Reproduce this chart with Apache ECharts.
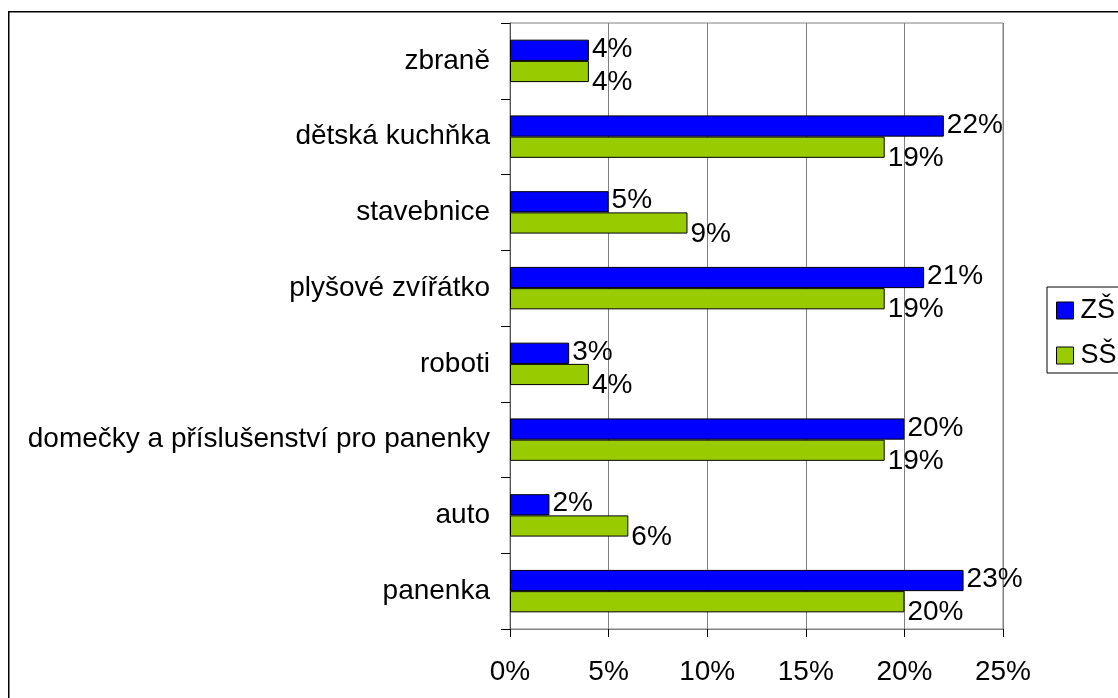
<!DOCTYPE html>
<html>
<head>
<meta charset="utf-8">
<script src="https://cdn.jsdelivr.net/npm/echarts@6/dist/echarts.min.js"></script>
<style>html,body{margin:0;padding:0;background:#fff}#c{width:1118px;height:698px}</style>
</head>
<body>
<div id="c"></div>
<script>
const categories = ['panenka', 'auto', 'domečky a příslušenství pro panenky', 'roboti', 'plyšové zvířátko', 'stavebnice', 'dětská kuchňka', 'zbraně'];
const seriesNames = ['ZŠ', 'SŠ'];
const zsValues = [23, 2, 20, 3, 21, 5, 22, 4];
const ssValues = [20, 6, 19, 4, 19, 9, 19, 4];
const xTicks = [0, 5, 10, 15, 20, 25];

const chart = echarts.init(document.getElementById('c'), null, {renderer: 'canvas'});
const font = 'Liberation Sans, Arial, sans-serif';
chart.setOption({
  animation: false,
  backgroundColor: '#fff',
  textStyle: {fontFamily: font},
  graphic: [{
    type: 'rect', left: 8, top: 11, z: -10,
    shape: {width: 1200, height: 800},
    style: {fill: '#fff', stroke: '#000', lineWidth: 1.5}
  }],
  grid: {left: 510, top: 23, right: 115, bottom: 69, show: true, borderColor: '#808080', borderWidth: 1, backgroundColor: 'transparent'},
  legend: {
    orient: 'vertical', left: 1047, top: 287,
    data: seriesNames,
    icon: 'rect', itemWidth: 17, itemHeight: 17, itemGap: 18,
    borderColor: '#000', borderWidth: 1,
    padding: [10, 60, 4, 9],
    itemStyle: {borderColor: '#000', borderWidth: 1},
    textStyle: {fontSize: 27, lineHeight: 20, color: '#000', fontFamily: font, padding: [0, 0, 0, 2]}
  },
  xAxis: {
    type: 'value', min: xTicks[0], max: xTicks[xTicks.length - 1], interval: 5,
    axisLine: {show: true, lineStyle: {color: '#808080'}},
    axisTick: {show: true, length: 8, lineStyle: {color: '#000'}},
    splitLine: {show: true, lineStyle: {color: '#808080', width: 1}},
    axisLabel: {formatter: '{value}%', fontSize: 28, color: '#000', margin: 29, fontFamily: font}
  },
  yAxis: {
    type: 'category', data: categories,
    axisLine: {show: true, lineStyle: {color: '#555'}},
    axisTick: {show: true, length: 9, lineStyle: {color: '#000'}},
    axisLabel: {fontSize: 28, color: '#000', margin: 20, fontFamily: font}
  },
  series: [
    {
      name: seriesNames[0], type: 'bar', data: zsValues,
      barGap: '0%', barCategoryGap: '44%',
      itemStyle: {color: '#0000FF', borderColor: '#000', borderWidth: 1},
      label: {show: true, position: 'right', distance: 3, offset: [0, -1], formatter: '{c}%', fontSize: 28, color: '#000', fontFamily: font}
    },
    {
      name: seriesNames[1], type: 'bar', data: ssValues,
      barGap: '0%', barCategoryGap: '44%',
      itemStyle: {color: '#99CC00', borderColor: '#000', borderWidth: 1},
      label: {show: true, position: 'right', distance: 3, offset: [0, 11], formatter: '{c}%', fontSize: 28, color: '#000', fontFamily: font}
    }
  ]
});
</script>
</body>
</html>
